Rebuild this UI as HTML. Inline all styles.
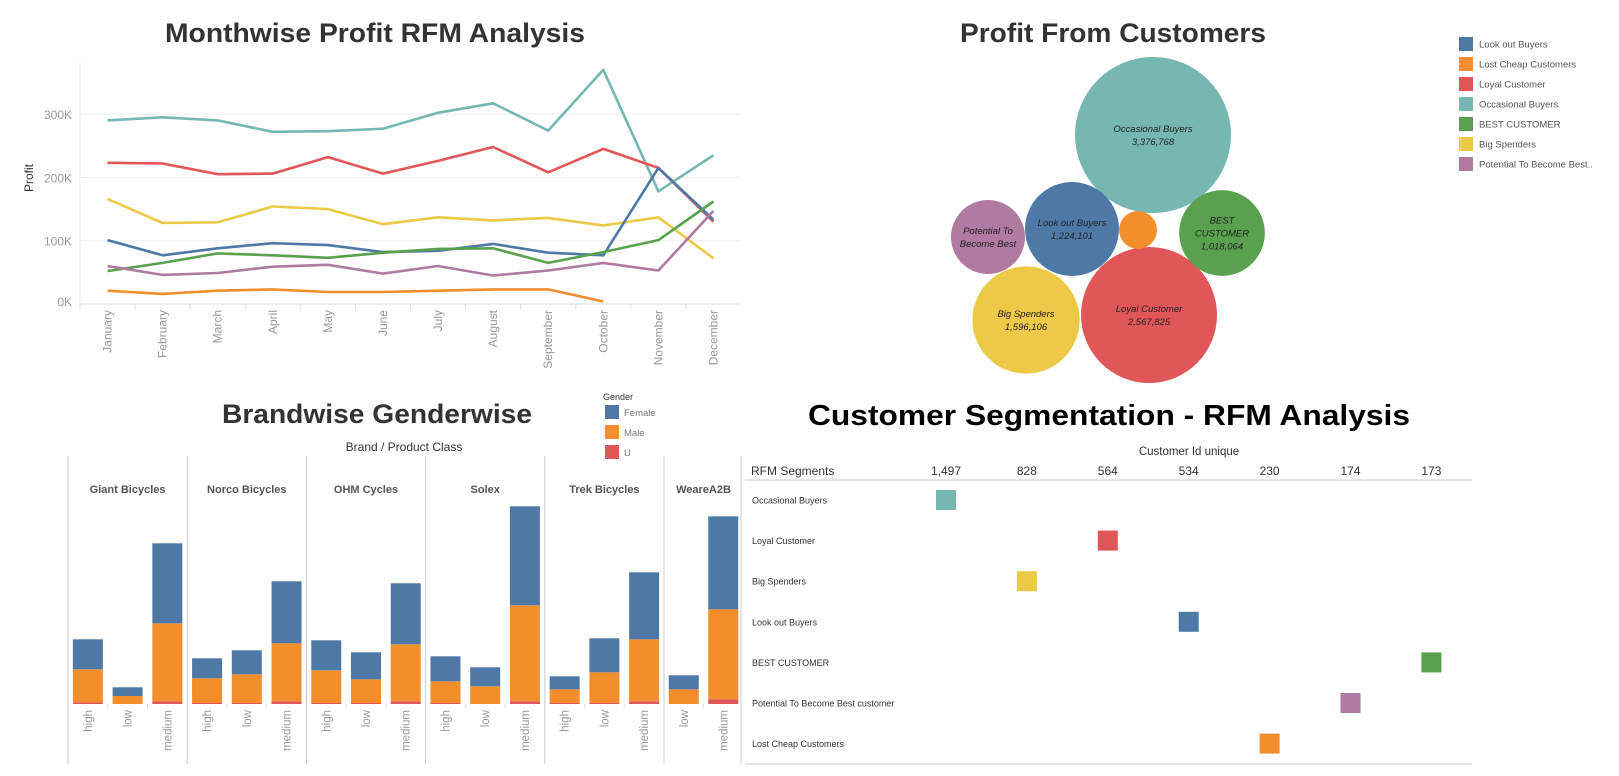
<!DOCTYPE html>
<html><head><meta charset="utf-8"><style>
html,body{margin:0;padding:0;background:#fff;}
svg{display:block;font-family:"Liberation Sans",sans-serif;}
</style></head><body>
<svg id="root" width="1619" height="776" viewBox="0 0 1619 776" xmlns="http://www.w3.org/2000/svg">
<text x="375" y="42" text-anchor="middle" font-size="27" font-weight="bold" fill="#333" textLength="420" lengthAdjust="spacingAndGlyphs">Monthwise Profit RFM Analysis</text>
<text x="1113" y="42" text-anchor="middle" font-size="27" font-weight="bold" fill="#333" textLength="306" lengthAdjust="spacingAndGlyphs">Profit From Customers</text>
<text x="377" y="423" text-anchor="middle" font-size="27" font-weight="bold" fill="#333" textLength="310" lengthAdjust="spacingAndGlyphs">Brandwise Genderwise</text>
<text x="1109" y="425" text-anchor="middle" font-size="29" font-weight="bold" fill="#000" textLength="602" lengthAdjust="spacingAndGlyphs">Customer Segmentation - RFM Analysis</text>
<g id="line"></g>
<g id="bubble"></g>
<g id="bar"></g>
<g id="seg"></g>
</svg>
<script>
// ---------- Line chart data ----------
const months = ["January","February","March","April","May","June","July","August","September","October","November","December"];
const lineSeriesNames = ["Occasional Buyers","Loyal Customer","Big Spenders","Look out Buyers","BEST CUSTOMER","Potential To Become Best","Lost Cheap Customers"];
const occasionalVals = [290,295,290,272,273,277,302,317,274,370,178,235];
const loyalVals = [223,222,205,206,232,206,226,248,208,245,215,130];
const bigVals = [166,128,129,154,150,126,137,132,136,124,137,72];
const lookoutVals = [101,77,88,96,93,82,84,95,81,77,215,133];
const bestVals = [52,65,80,77,73,81,87,88,65,82,101,162];
const potentialVals = [60,46,49,59,62,48,60,45,53,65,53,147];
const lostVals = [21,16,21,23,19,19,21,23,23,4,null,null];
const yTicks = [0,100,200,300];
const yTickLabels = ["0K","100K","200K","300K"];

// ---------- Bubble data ----------
const bubbleNames = ["Occasional Buyers","Loyal Customer","Big Spenders","Look out Buyers","BEST CUSTOMER","Potential To Become Best","Lost Cheap Customers"];
const bubbleValues = [3376768,2567825,1596106,1224101,1018064,760000,200000];
const bubbleLabels = ["3,376,768","2,567,825","1,596,106","1,224,101","1,018,064","",""];
const legendNames = ["Look out Buyers","Lost Cheap Customers","Loyal Customer","Occasional Buyers","BEST CUSTOMER","Big Spenders","Potential To Become Best.."];

// ---------- Bar data ----------
const brands = ["Giant Bicycles","Norco Bicycles","OHM Cycles","Solex","Trek Bicycles","WeareA2B"];
const brandClasses = [["high","low","medium"],["high","low","medium"],["high","low","medium"],["high","low","medium"],["high","low","medium"],["low","medium"]];
const femaleVals = [[300,87,800],[200,240,620],[300,270,610],[250,190,990],[130,340,670],[140,930]];
const maleVals = [[330,80,780],[247,287,580],[327,237,570],[217,177,960],[137,307,620],[147,900]];
const uVals = [[17,0,27],[10,10,27],[10,10,27],[10,0,27],[10,10,27],[0,47]];
const genders = ["Female","Male","U"];

// ---------- Segment data ----------
const segNames = ["Occasional Buyers","Loyal Customer","Big Spenders","Look out Buyers","BEST CUSTOMER","Potential To Become Best customer","Lost Cheap Customers"];
const segCounts = [1497,564,828,534,173,174,230];
const segColumnLabels = ["1,497","828","564","534","230","174","173"];

const NS="http://www.w3.org/2000/svg";
function mk(tag,attrs,parent,txt){const e=document.createElementNS(NS,tag);for(const k in attrs)e.setAttribute(k,attrs[k]);if(txt!==undefined)e.textContent=txt;parent.appendChild(e);return e;}
const C={teal:"#76b7b2",red:"#e15759",yellow:"#edc948",blue:"#4e79a7",green:"#59a14f",purple:"#b07aa1",orange:"#f28e2b"};
const segColor={"Occasional Buyers":C.teal,"Loyal Customer":C.red,"Big Spenders":C.yellow,"Look out Buyers":C.blue,"BEST CUSTOMER":C.green,"Potential To Become Best":C.purple,"Potential To Become Best customer":C.purple,"Potential To Become Best..":C.purple,"Lost Cheap Customers":C.orange};

// ===== Line chart =====
(function(){
const g=document.getElementById('line');
const x0=80,x1=741,bw=(x1-x0)/months.length;
const xs=i=>x0+bw*(i+0.5);
const ys=v=>304-v*0.633;
yTicks.forEach((t,i)=>{
 const gl=mk('line',{x1:x0,x2:x1,y1:ys(t),y2:ys(t),stroke:"#eee","stroke-width":1},g);
 
 
 const tl=mk('text',{x:72,y:(t===0?ys(t)-3:ys(t))+5,"text-anchor":"end","font-size":12,fill:"#999"},g,yTickLabels[i]);
 
 
});
mk('line',{x1:x0,x2:x0,y1:57,y2:304,stroke:"#eee"},g);
mk('line',{x1:x0,x2:x1,y1:304,y2:304,stroke:"#ddd"},g);
const yt=mk('text',{x:33,y:178,"text-anchor":"middle","font-size":12,fill:"#333",transform:"rotate(-90 33 178)"},g,"Profit");


months.forEach((m,i)=>{
 mk('line',{x1:x0+bw*i,x2:x0+bw*i,y1:304,y2:309,stroke:"#ddd"},g);
 const t=mk('text',{x:xs(i)+4,y:310,"text-anchor":"end","font-size":12,fill:"#999",transform:`rotate(-90 ${xs(i)+4} 310)`},g,m);
 
 
});
const series=[[occasionalVals,C.teal],[loyalVals,C.red],[bigVals,C.yellow],[lookoutVals,C.blue],[bestVals,C.green],[potentialVals,C.purple],[lostVals,C.orange]];
series.forEach((s,si)=>{
 let d="";let start=true;
 s[0].forEach((v,i)=>{if(v===null){start=true;return;}d+=(start?"M":"L")+xs(i).toFixed(1)+","+ys(v).toFixed(1);start=false;});
 const p=mk('path',{d:d,fill:"none",stroke:s[1],"stroke-width":2.6,"stroke-linejoin":"round"},g);
 
 
});
})();

// ===== Bubble chart =====
(function(){
const g=document.getElementById('bubble');
const k=78/Math.sqrt(bubbleValues[0]);
const centers=[[1153,135],[1149,315],[1026,320],[1072,229],[1222,233],[988,237],[1138,230]];
const labelLines=[["Occasional Buyers"],["Loyal Customer"],["Big Spenders"],["Look out Buyers"],["BEST","CUSTOMER"],["Potential To","Become Best"],[]];
bubbleNames.forEach((n,i)=>{
 const r=k*Math.sqrt(bubbleValues[i]);
 const c=mk('circle',{cx:centers[i][0],cy:centers[i][1],r:r,fill:segColor[n]},g);
 
 
 const lines=labelLines[i].slice();if(bubbleLabels[i])lines.push(bubbleLabels[i]);
 const y0=centers[i][1]-(lines.length-1)*6.5+3.5;
 lines.forEach((l,j)=>{
  const t=mk('text',{x:centers[i][0],y:y0+j*13,"text-anchor":"middle","font-size":9.5,"font-style":"italic",fill:"#222"},g,l);
  
  
 });
});
legendNames.forEach((n,i)=>{
 const y=44+i*20;
 const s=mk('rect',{x:1459,y:y-7,width:14,height:14,fill:segColor[n]},g);
 
 
 const t=mk('text',{x:1479,y:y+3.5,"font-size":9.5,fill:"#555"},g,n);
 
 
});
})();

// ===== Bar chart =====
(function(){
const g=document.getElementById('bar');
const base=704,sc=0.1;
const t0=mk('text',{x:603,y:400,"font-size":9,fill:"#333"},g,"Gender");


const gc=[C.blue,C.orange,C.red];
genders.forEach((n,i)=>{
 const s=mk('rect',{x:605,y:405+i*20,width:14,height:14,fill:gc[i]},g);
 
 
 const t=mk('text',{x:624,y:416+i*20,"font-size":9.5,fill:"#777"},g,n);
 
 
});
const ht=mk('text',{x:404,y:451,"text-anchor":"middle","font-size":12,fill:"#333"},g,"Brand  /  Product Class");


const pw=119.2;
let px=68;
brands.forEach((b,bi)=>{
 const n=brandClasses[bi].length;const w=(bi===brands.length-1)?79:pw;
 const dl=mk('line',{x1:px,x2:px,y1:456,y2:764,stroke:"#ccc"},g);
 
 
 const bt=mk('text',{x:px+w/2,y:493,"text-anchor":"middle","font-size":11,"font-weight":"bold",fill:"#555"},g,b);
 
 
 const slot=w/n;
 brandClasses[bi].forEach((cl,ci)=>{
  const bx=px+slot*ci+(slot-30)/2;
  let y=base;
  [[uVals,C.red,'u'],[maleVals,C.orange,'male'],[femaleVals,C.blue,'female']].forEach(s=>{
   const h=s[0][bi][ci]*sc;
   if(h>0){const r=mk('rect',{x:bx,y:y-h,width:30,height:h,fill:s[1]},g);
   
   }
   y-=h;
  });
  if(ci>0){mk('line',{x1:px+slot*ci,x2:px+slot*ci,y1:704,y2:708,stroke:"#ddd"},g);}
  const cx=px+slot*ci+slot/2+4;
  const t=mk('text',{x:cx,y:710,"text-anchor":"end","font-size":11.5,fill:"#999",transform:`rotate(-90 ${cx} 710)`},g,cl);
  
  
 });
 px+=w;
});
mk('line',{x1:741,x2:741,y1:456,y2:764,stroke:"#ccc"},g);
})();

// ===== Segment chart =====
(function(){
const g=document.getElementById('seg');
const colX=i=>946+i*80.9;
const colOf=v=>segColumnLabels.indexOf(v.toLocaleString('en-US'));
const ht=mk('text',{x:1189,y:455,"text-anchor":"middle","font-size":11.5,fill:"#333"},g,"Customer Id  unique");


const rh=mk('text',{x:751,y:475,"font-size":12,fill:"#333"},g,"RFM Segments");


segColumnLabels.forEach((l,i)=>{
 const t=mk('text',{x:colX(i),y:475,"text-anchor":"middle","font-size":12,fill:"#333"},g,l);
 
 
});
mk('line',{x1:745,x2:1472,y1:480,y2:480,stroke:"#ccc"},g);
mk('line',{x1:745,x2:1472,y1:764,y2:764,stroke:"#ccc"},g);
segNames.forEach((n,i)=>{
 const y=500+i*40.6;
 const t=mk('text',{x:752,y:y+3.5,"font-size":9,fill:"#333"},g,n);
 
 
 const c=colOf(segCounts[i]);
 const r=mk('rect',{x:colX(c)-10,y:y-10,width:20,height:20,fill:segColor[n]},g);
 
 
});
})();
</script>
</body></html>
